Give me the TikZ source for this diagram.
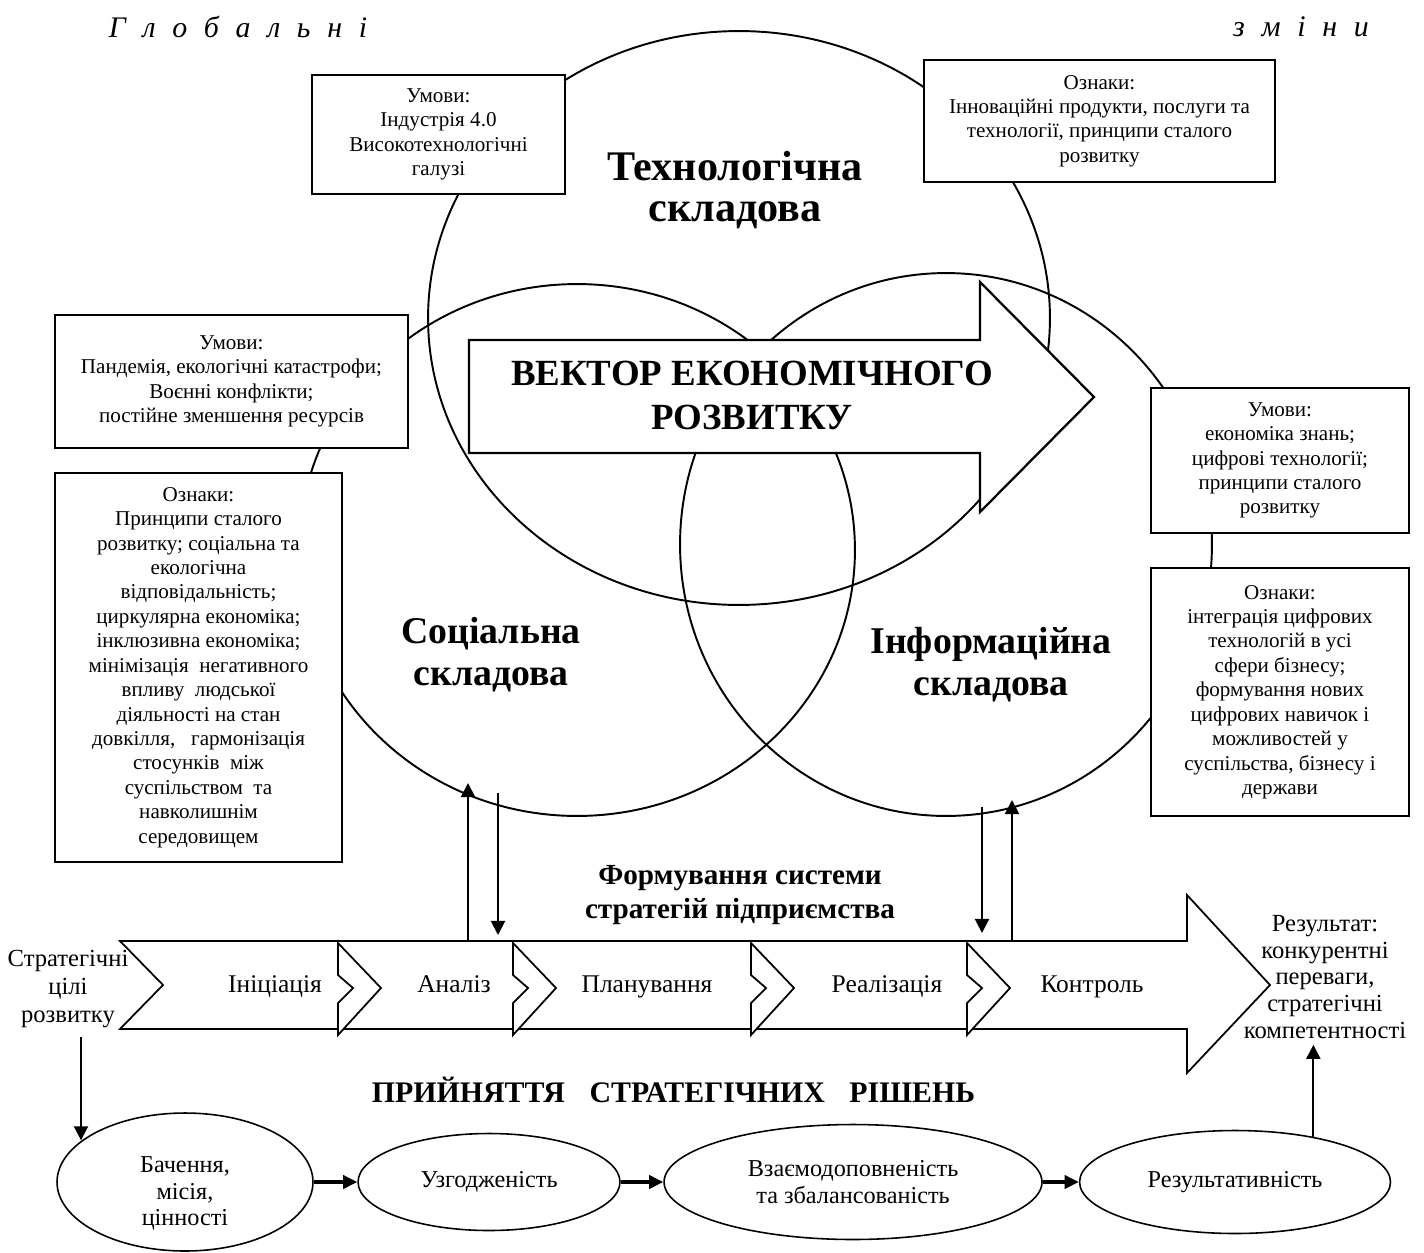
\documentclass[tikz,border=0pt]{standalone}
\usepackage{fontspec}
\setmainfont{Liberation Serif}
\usepackage{tikz}
\usetikzlibrary{shapes.geometric, arrows.meta, positioning, calc}

\begin{document}
\begin{tikzpicture}[
    x=0.02cm, y=-0.02cm,
    ring/.style={ellipse, draw, line width=1.1pt, inner sep=0pt},
    infobox/.style={rectangle, draw, fill=white, line width=0.7pt, align=center, inner sep=2pt, font=\fontsize{12}{13.9}\selectfont},
    ringlabel/.style={align=center, font=\bfseries\fontsize{21.5}{23.8}\selectfont},
    headline/.style={font={\itshape\fontsize{17}{20}\selectfont\spaceskip=9.5pt\relax}},
    stage/.style={align=center, font=\fontsize{14}{16.2}\selectfont},
    stagename/.style={font=\fontsize{14.5}{16.5}\selectfont, text height=10pt, text depth=3pt},
    goal/.style={ellipse, draw, line width=0.9pt, inner sep=0pt, align=center, font=\fontsize{13.8}{15}\selectfont},
    flow/.style={-{Triangle[length=8pt,width=8pt]}, line width=1.1pt},
    boldflow/.style={-{Triangle[length=8pt,width=7.5pt]}, line width=1.8pt},
    chevronline/.style={draw, fill=white, line width=1pt, line join=miter}
  ]
    \useasboundingbox (0,0) rectangle (1424,1252);

    \node[headline] (globl) at (238,27) {Г л о б а л ь н і};
    \node[headline] (globr) at (1301,27) {з м і н и};

    \node[ring, minimum width=12.44cm, minimum height=11.48cm] (tech) at (739,318) {};
    \node[ring, minimum width=11.12cm, minimum height=10.64cm] (soc) at (577,550) {};
    \node[ring, minimum width=10.64cm, minimum height=10.86cm] (inf) at (946,544.5) {};

    \draw[fill=white, line width=1.3pt] (469,340) -- (980,340) -- (980,282) -- (1094,397) -- (980,512) -- (980,453) -- (469,453) -- cycle;
    \node[align=center, font=\bfseries\fontsize{21}{25}\selectfont] (vector) at (752,395) {ВЕКТОР ЕКОНОМІЧНОГО\\РОЗВИТКУ};

    \node[ringlabel, font=\bfseries\fontsize{24}{23.5}\selectfont] (techname) at (735,190) {Технологічна\\складова};
    \node[ringlabel] (socname) at (491,655) {Соціальна\\складова};
    \node[ringlabel] (infname) at (991,664.5) {Інформаційна\\складова};

    \node[infobox, minimum width=5.06cm, minimum height=2.38cm] (techcond) at (438.5,134.5) {Умови:\\Індустрія 4.0\\Високотехнологічні\\галузі};
    \node[infobox, minimum width=7.02cm, minimum height=2.44cm] (techsign) at (1099.5,121) {Ознаки:\\Інноваційні продукти, послуги та\\технології, принципи сталого\\розвитку};
    \node[infobox, minimum width=7.06cm, minimum height=2.66cm] (soccond) at (231.5,381.5) {Умови:\\Пандемія, екологічні катастрофи;\\Воєнні конфлікти;\\постійне зменшення ресурсів};
    \node[infobox, minimum width=5.74cm, minimum height=7.78cm] (socsign) at (198.5,667.5) {Ознаки:\\Принципи сталого\\розвитку; соціальна та\\екологічна\\відповідальність;\\циркулярна економіка;\\інклюзивна економіка;\\мінімізація~ негативного\\впливу~ людської\\діяльності на стан\\довкілля,~~ гармонізація\\стосунків~ між\\суспільством~ та\\навколишнім\\середовищем};
    \node[infobox, minimum width=5.16cm, minimum height=2.9cm] (infcond) at (1280,460.5) {Умови:\\економіка знань;\\цифрові технології;\\принципи сталого\\розвитку};
    \node[infobox, minimum width=5.16cm, minimum height=4.96cm] (infsign) at (1280,692) {Ознаки:\\інтеграція цифрових\\технологій в усі\\сфери бізнесу;\\формування нових\\цифрових навичок і\\можливостей у\\суспільства, бізнесу і\\держави};

    \node[align=center, font=\bfseries\fontsize{16.6}{19.3}\selectfont] (formation) at (740,895) {Формування системи\\стратегій підприємства};

    \draw[fill=white, line width=1pt] (120,941) -- (1187,941) -- (1187,895) -- (1270,985) -- (1187,1073) -- (1187,1029) -- (120,1029) -- (163,985) -- cycle;
    \foreach \cx in {338,513,751,967}
      \draw[chevronline] (\cx,943) -- ++(43,45) -- ++(-43,47) -- ++(0,-32) -- ++(15,-15) -- ++(-15,-13) -- cycle;

    \node[stage] (goals) at (68,989) {Стратегічні\\цілі\\розвитку};
    \node[stagename] (init) at (275,986) {Ініціація};
    \node[stagename] (anal) at (454,986) {Аналіз};
    \node[stagename] (plan) at (647,986) {Планування};
    \node[stagename] (real) at (887,986) {Реалізація};
    \node[stagename] (ctrl) at (1092,986) {Контроль};
    \node[stage, font=\fontsize{14}{15.2}\selectfont] (result) at (1325,977) {Результат:\\конкурентні\\переваги,\\стратегічні\\компетентності};

    \node[font=\bfseries\fontsize{17}{19}\selectfont] (decision) at (673.5,1090) {ПРИЙНЯТТЯ\hspace{14pt}СТРАТЕГІЧНИХ\hspace{14pt}РІШЕНЬ};

    \node[goal, minimum width=5.12cm, minimum height=2.76cm, text height=52pt] (vision) at (185,1182) {Бачення,\\місія,\\цінності};
    \node[goal, minimum width=5.24cm, minimum height=1.94cm, right=0.87cm of vision] (accord) {Узгодженість};
    \node[goal, minimum width=7.56cm, minimum height=2.3cm, right=0.85cm of accord] (balance) {Взаємодоповненість\\та збалансованість};
    \node[goal, minimum width=6.22cm, minimum height=2.06cm, right=0.72cm of balance] (effect) {Результативність};

    \coordinate (socupfoot) at (468,941);
    \coordinate (socuptip) at (468,783);
    \coordinate (socdownfoot) at (498,793);
    \coordinate (socdowntip) at (498,935);
    \coordinate (infdownfoot) at (982,807);
    \coordinate (infdowntip) at (982,933);
    \coordinate (infupfoot) at (1012,940);
    \coordinate (infuptip) at (1012,800);
    \coordinate (goaldrop) at (81,1037);

    \draw[flow] (socupfoot) -- (socuptip);
    \draw[flow] (socdownfoot) -- (socdowntip);
    \draw[flow] (infdownfoot) -- (infdowntip);
    \draw[flow] (infupfoot) -- (infuptip);
    \draw[flow] (goaldrop) -- (goaldrop |- vision.158);
    \draw[boldflow] (vision) -- (accord);
    \draw[boldflow] (accord) -- (balance);
    \draw[boldflow] (balance) -- (effect);
    \draw[flow] (effect.30) -- (effect.30 |- result.south);
\end{tikzpicture}
\end{document}
